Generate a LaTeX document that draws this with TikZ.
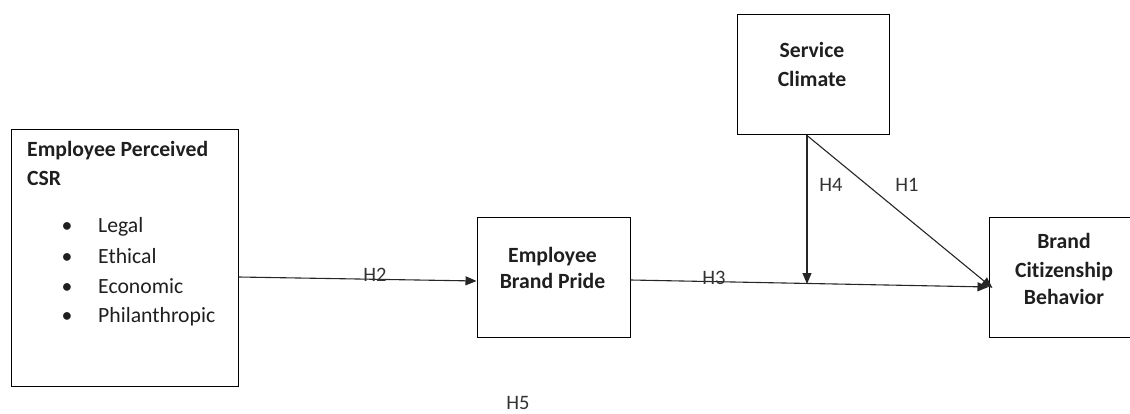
\documentclass[tikz,border=0pt]{standalone}
\usepackage{fontspec}
\setmainfont{Carlito}[Ligatures=NoCommon]
\usetikzlibrary{arrows.meta}
\begin{document}
\begin{tikzpicture}[x=1pt,y=-1pt,
  box/.style={draw=black,line width=1pt,inner sep=0pt,rectangle},
  txt/.style={font=\fontsize{21.7}{26}\selectfont,inner sep=0pt,anchor=base,text=black!88},
  btxt/.style={txt,font=\fontsize{21.7}{26}\selectfont\bfseries},
  lbl/.style={txt,font=\fontsize{20.5}{24}\selectfont,text=black!80},
  conn/.style={draw=black!85,line width=1.1pt},
  arr/.style={conn,-{Triangle[length=11pt,width=9pt]}}]
\useasboundingbox (0,0) rectangle (1130,414);
\begin{scope}
\clip (0,0) rectangle (1130,414);
% boxes
\node[box,minimum width=227pt,minimum height=256pt] (csr) at (124.5,258) {};
\node[box,minimum width=153pt,minimum height=119pt] (ebp) at (553.5,277.5) {};
\node[box,minimum width=152pt,minimum height=120pt] (sc) at (813,75) {};
\node[box,minimum width=150pt,minimum height=119pt] (bcb) at (1064,277.5) {};
% texts
\node[btxt,anchor=base west] (t1) at (27,157) {Employee Perceived};
\node[btxt,anchor=base west] (t2) at (27,186) {CSR};
\foreach \yy/\w [count=\i] in {233/Legal,263/Ethical,293/Economic,322/Philanthropic}{
  \node[txt,anchor=base] (b\i) at (67,\yy) {\textbullet};
  \node[txt,anchor=base west] (w\i) at (98,\yy) {\w};
}
\node[btxt] (e1) at (552.5,262) {Employee};
\node[btxt] (e2) at (552.5,288) {Brand Pride};
\node[btxt] (s1) at (812,58) {Service};
\node[btxt] (s2) at (812,87) {Climate};
\node[btxt] (c1) at (1064,248) {Brand};
\node[btxt] (c2) at (1064,277) {Citizenship};
\node[btxt] (c3) at (1064,304) {Behavior};
% connectors
\coordinate (m) at (807,284);
\draw[arr] (csr.east |- 0,277) -- (ebp.west |- 0,281);
\draw[arr] (ebp.east |- 0,280) -- (bcb.west |- 0,287);
\draw[arr] ([xshift=-6pt]sc.south) -- (m);
\draw[arr] ([xshift=-6pt]sc.south) -- ([xshift=4pt,yshift=-1pt]bcb.west |- 0,287);
% labels
\node[lbl] (h2) at (375,281) {H2};
\node[lbl] (h3) at (714,284) {H3};
\node[lbl] (h4) at (831,192) {H4};
\node[lbl] (h1) at (907,192) {H1};
\node[lbl] (h5) at (518,409) {H5};
\end{scope}
\end{tikzpicture}
\end{document}
